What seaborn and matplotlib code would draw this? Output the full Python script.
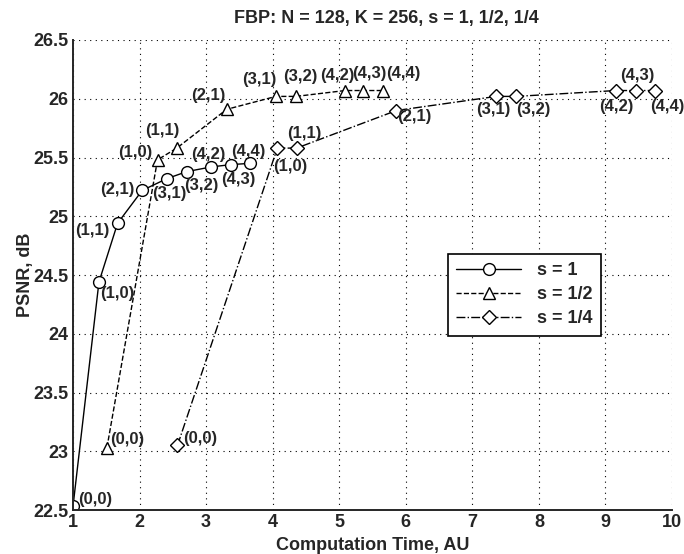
import pandas as pd
import matplotlib
matplotlib.use('Agg')
import matplotlib.pyplot as plt
import seaborn as sns
from matplotlib.ticker import FormatStrFormatter, MultipleLocator

# data
labels = ['(0,0)', '(1,0)', '(1,1)', '(2,1)', '(3,1)', '(3,2)', '(4,2)', '(4,3)', '(4,4)']

time_s1 = [1.00, 1.39, 1.67, 2.04, 2.41, 2.71, 3.08, 3.38, 3.66]
psnr_s1 = [22.53, 24.44, 24.94, 25.22, 25.32, 25.38, 25.42, 25.44, 25.45]

time_s2 = [1.51, 2.27, 2.56, 3.31, 4.05, 4.35, 5.09, 5.36, 5.66]
psnr_s2 = [23.03, 25.48, 25.58, 25.91, 26.02, 26.02, 26.07, 26.07, 26.07]

time_s4 = [2.57, 4.07, 4.36, 5.86, 7.36, 7.66, 9.16, 9.46, 9.74]
psnr_s4 = [23.05, 25.58, 25.58, 25.90, 26.02, 26.02, 26.07, 26.07, 26.07]

# label offsets in pixels (dx, dy)
off_s1 = [(22, 7), (18, -11), (-25, -7), (-25, 1), (2, -15), (15, -14), (-3, 12), (7, -15), (-2, 12)]
off_s2 = [(20, 8), (-22, 7), (-15, 18), (-18, 14), (-17, 17), (4, 20), (-8, 15), (6, 17), (20, 17)]
off_s4 = [(23, 7), (13, -18), (8, 15), (18, -6), (-3, -13), (17, -13), (0, -16), (1, 15), (13, -16)]

sns.set_style('white')
plt.rcParams['font.family'] = ['Liberation Sans', 'DejaVu Sans']
plt.rcParams['font.weight'] = 'bold'

fig = plt.figure(figsize=(6.84, 5.54), dpi=100)
ax = fig.add_axes([0.1067, 0.0794, 0.8758, 0.8484])

series = [
    ('s = 1', time_s1, psnr_s1, off_s1, 'o', '-'),
    ('s = 1/2', time_s2, psnr_s2, off_s2, '^', '--'),
    ('s = 1/4', time_s4, psnr_s4, off_s4, 'D', '-.'),
]

for name, t, p, offs, mk, ls in series:
    df = pd.DataFrame({'time': t, 'psnr': p})
    sns.lineplot(data=df, x='time', y='psnr', sort=False, ax=ax, color='black',
                 linewidth=1.0, linestyle=ls, marker=mk,
                 markersize=8.5 if mk != 'D' else 7, markerfacecolor='white',
                 markeredgecolor='black', markeredgewidth=1.0, label=name)
    for lab, x, y, (dx, dy) in zip(labels, t, p, offs):
        ax.annotate(lab, (x, y), xytext=(dx, dy), textcoords='offset pixels',
                    ha='center', va='center', fontsize=12, fontweight='bold',
                    annotation_clip=False)

ax.set_xlim(1, 10)
ax.set_ylim(22.5, 26.5)
ax.xaxis.set_major_locator(MultipleLocator(1))
ax.yaxis.set_major_locator(MultipleLocator(0.5))
ax.yaxis.set_major_formatter(FormatStrFormatter('%g'))
ax.grid(True, color='black', linestyle=(0, (1, 4)), linewidth=0.8)
ax.tick_params(direction='in', length=5, labelsize=13, width=1, pad=3)
for lbl in ax.get_xticklabels() + ax.get_yticklabels():
    lbl.set_fontweight('bold')
ax.spines['top'].set_visible(False)
ax.spines['right'].set_visible(False)
ax.spines['left'].set_linewidth(1.4)
ax.spines['bottom'].set_linewidth(1.4)

ax.set_title('FBP: N = 128, K = 256, s = 1, 1/2, 1/4', fontsize=13, fontweight='bold',
             pad=12, x=0.523)
ax.set_xlabel('Computation Time, AU', fontsize=13, fontweight='bold', labelpad=4)
ax.set_ylabel('PSNR, dB', fontsize=13, fontweight='bold', labelpad=0)

leg = ax.legend(loc='upper left', bbox_to_anchor=(0.626, 0.545), fancybox=False,
                framealpha=1, edgecolor='black', fontsize=13, handlelength=3.6,
                borderpad=0.45, labelspacing=0.4, handletextpad=0.9, borderaxespad=0)
leg.get_frame().set_linewidth(1.2)
for t in leg.get_texts():
    t.set_fontweight('bold')

fig.savefig('out.png', dpi=100)
